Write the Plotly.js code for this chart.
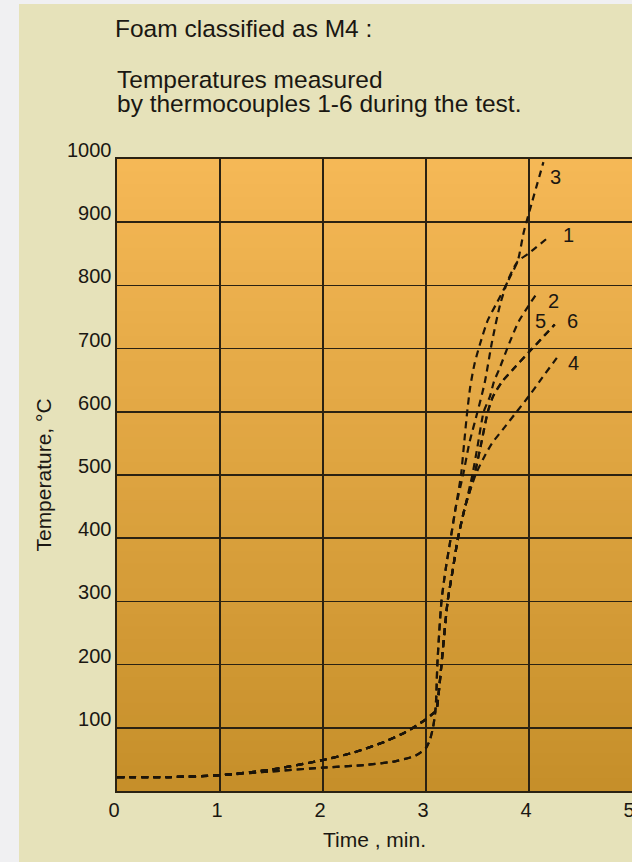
<!DOCTYPE html>
<html>
<head>
<meta charset="utf-8">
<script src="https://cdn.plot.ly/plotly-3.0.1.min.js"></script>
<style>
  html, body { margin: 0; padding: 0; background: #e6e2ba; }
  #chart { width: 632px; height: 862px; }
</style>
</head>
<body>
<div id="chart"></div>
<script>
// ---- Data ----
// Time axis ticks (min) and temperature ticks (°C)
const xTicks = [0, 1, 2, 3, 4, 5];
const yTicks = [100, 200, 300, 400, 500, 600, 700, 800, 900, 1000];

// Thermocouple 3
const tc3_x = [0, 0.5, 1.0, 1.5, 2.0, 2.4, 2.7, 2.9, 3.0, 3.04, 3.07, 3.09, 3.10, 3.11, 3.15, 3.19, 3.24, 3.29, 3.34, 3.37, 3.40, 3.43, 3.47, 3.52, 3.60, 3.68, 3.76, 3.83, 3.89, 3.95, 4.03, 4.14];
const tc3_y = [22, 22, 25, 31, 37, 41, 47, 56, 68, 82, 102, 125, 150, 200, 300, 350, 400, 450, 500, 550, 600, 640, 675, 705, 745, 770, 795, 818, 838, 885, 932, 995];

// Thermocouple 1
const tc1_x = [0, 0.5, 1.0, 1.5, 2.0, 2.4, 2.7, 2.9, 3.0, 3.04, 3.07, 3.09, 3.10, 3.11, 3.15, 3.19, 3.24, 3.29, 3.36, 3.42, 3.50, 3.57, 3.64, 3.72, 3.80, 3.89, 4.00, 4.18];
const tc1_y = [22, 22, 25, 31, 37, 41, 47, 56, 68, 82, 102, 125, 150, 200, 300, 350, 400, 450, 500, 550, 600, 646, 710, 770, 810, 838, 851, 875];

// Thermocouple 2
const tc2_x = [0, 0.5, 1.0, 1.5, 2.0, 2.3, 2.6, 2.8, 2.95, 3.05, 3.10, 3.12, 3.15, 3.21, 3.26, 3.31, 3.38, 3.45, 3.50, 3.56, 3.62, 3.66, 3.71, 3.81, 3.90, 4.07];
const tc2_y = [22, 22, 25, 34, 49, 61, 78, 93, 108, 120, 128, 150, 200, 300, 350, 400, 450, 500, 545, 600, 624, 648, 667, 709, 743, 786];

// Thermocouple 5
const tc5_x = [0, 0.5, 1.0, 1.5, 2.0, 2.3, 2.6, 2.8, 2.95, 3.05, 3.10, 3.12, 3.15, 3.21, 3.26, 3.31, 3.38, 3.47, 3.53, 3.60, 3.65, 3.74, 3.85, 4.02, 4.25];
const tc5_y = [22, 22, 25, 34, 49, 61, 78, 93, 108, 120, 128, 150, 200, 300, 350, 400, 450, 500, 545, 600, 624, 648, 668, 698, 738];

// Thermocouple 6
const tc6_x = [0, 0.5, 1.0, 1.5, 2.0, 2.3, 2.6, 2.8, 2.95, 3.05, 3.10, 3.12, 3.15, 3.21, 3.26, 3.31, 3.38, 3.47, 3.53, 3.60, 3.65, 3.74, 3.85, 4.02, 4.25];
const tc6_y = [22, 22, 25, 34, 49, 61, 78, 93, 108, 120, 128, 150, 200, 300, 350, 400, 450, 500, 545, 600, 624, 648, 668, 698, 738];

// Thermocouple 4
const tc4_x = [0, 0.5, 1.0, 1.5, 2.0, 2.3, 2.6, 2.8, 2.95, 3.05, 3.10, 3.12, 3.15, 3.21, 3.26, 3.31, 3.38, 3.48, 3.56, 3.64, 3.76, 3.88, 4.00, 4.12, 4.30];
const tc4_y = [22, 22, 25, 34, 49, 61, 78, 93, 108, 120, 128, 150, 200, 300, 350, 400, 450, 500, 527, 550, 575, 600, 625, 652, 692];

// Curve labels (text and where they sit)
const labelText = ['3', '1', '2', '5', '6', '4'];
const labelX = [4.26, 4.38, 4.24, 4.11, 4.42, 4.43];
const labelY = [972, 879, 776, 744, 744, 678];

// Heading lines
const headingLines = ['Foam classified as M4 :', 'Temperatures measured', 'by thermocouples 1-6 during the test.'];

// ---- Styles ----
const inkColor = '#1c150a';
const gridColor = '#2b2212';
const textColor = '#1a1712';
const fontFam = '"Liberation Sans", Arial, Helvetica, sans-serif';

const series = [
  {name: 'Thermocouple 3', x: tc3_x, y: tc3_y},
  {name: 'Thermocouple 1', x: tc1_x, y: tc1_y},
  {name: 'Thermocouple 2', x: tc2_x, y: tc2_y},
  {name: 'Thermocouple 5', x: tc5_x, y: tc5_y},
  {name: 'Thermocouple 6', x: tc6_x, y: tc6_y},
  {name: 'Thermocouple 4', x: tc4_x, y: tc4_y}
];

const traces = series.map(s => ({
  type: 'scatter',
  mode: 'lines',
  name: s.name,
  x: s.x,
  y: s.y,
  line: {color: inkColor, width: 2.2, dash: '7px,5px', shape: 'spline', smoothing: 0.6},
  hoverinfo: 'skip'
}));

// Vertical gradient for plot background: bands from bottom colour to top colour
const bottomRGB = [198, 143, 42];
const topRGB = [245, 184, 86];
const nBands = 50;
const shapes = [];
// scanned-page white edge on the left and top
shapes.push({type: 'rect', xref: 'paper', yref: 'paper', x0: -1, x1: (19 - 117) / 515, y0: -1, y1: 3,
  fillcolor: '#f0f0f2', line: {width: 0}, layer: 'below'});
shapes.push({type: 'rect', xref: 'paper', yref: 'paper', x0: -1, x1: 2, y0: (791 - 4) / 632, y1: 3,
  fillcolor: '#f0f0f2', line: {width: 0}, layer: 'below'});
for (let i = 0; i < nBands; i++) {
  const t = (i + 0.5) / nBands;
  const c = bottomRGB.map((b, k) => Math.round(b + (topRGB[k] - b) * t));
  shapes.push({
    type: 'rect', xref: 'paper', yref: 'paper',
    x0: 0, x1: 1, y0: i / nBands, y1: (i + 1) / nBands + 0.002,
    fillcolor: 'rgb(' + c.join(',') + ')', line: {width: 0}, layer: 'below'
  });
}

const annotations = labelText.map((t, i) => ({
  x: labelX[i], y: labelY[i], xref: 'x', yref: 'y', text: t, showarrow: false,
  font: {family: fontFam, size: 20, color: textColor}, xanchor: 'center', yanchor: 'middle'
}));
// heading lines 2 and 3 (positions in pixels converted to paper fraction)
const headingCenters = [79, 104];
[1, 2].forEach((k, j) => {
  annotations.push({
    xref: 'paper', yref: 'paper', x: (115 - 117) / 515, y: (791 - headingCenters[j]) / 632,
    xanchor: 'left', yanchor: 'middle', align: 'left',
    text: headingLines[k], showarrow: false,
    font: {family: fontFam, size: 24.5, color: textColor}
  });
});

const layout = {
  width: 632, height: 862,
  margin: {l: 117, r: 0, t: 159, b: 71},
  paper_bgcolor: '#e6e2ba',
  plot_bgcolor: 'rgba(0,0,0,0)',
  showlegend: false,
  hovermode: false,
  title: {
    text: headingLines[0],
    x: 115 / 632, xanchor: 'left', xref: 'container',
    y: 1 - 28 / 862, yanchor: 'middle', yref: 'container',
    font: {family: fontFam, size: 24.5, color: textColor}
  },
  xaxis: {
    range: [0, 5], tickvals: xTicks, ticktext: xTicks.map(String),
    showgrid: true, gridcolor: gridColor, gridwidth: 1.6,
    showline: true, mirror: true, linecolor: gridColor, linewidth: 1.6,
    zeroline: false, ticks: '', ticklabelstandoff: 0, ticklabelshift: -3,
    ticklabeloverflow: 'allow',
    tickfont: {family: fontFam, size: 20, color: textColor},
    title: {text: 'Time , min.', standoff: 13, font: {family: fontFam, size: 21, color: textColor}},
    fixedrange: true
  },
  yaxis: {
    range: [0, 1000], tickvals: yTicks, ticktext: yTicks.map(String),
    showgrid: true, gridcolor: gridColor, gridwidth: 1.6,
    showline: true, mirror: true, linecolor: gridColor, linewidth: 1.6,
    zeroline: false, ticks: '', ticklabelstandoff: 0, ticklabelshift: -9,
    tickfont: {family: fontFam, size: 20, color: textColor},
    title: {text: 'Temperature, °C', standoff: 9, font: {family: fontFam, size: 21, color: textColor}},
    fixedrange: true
  },
  shapes: shapes,
  annotations: annotations
};

Plotly.newPlot('chart', traces, layout, {displayModeBar: false, staticPlot: true});
</script>
</body>
</html>
